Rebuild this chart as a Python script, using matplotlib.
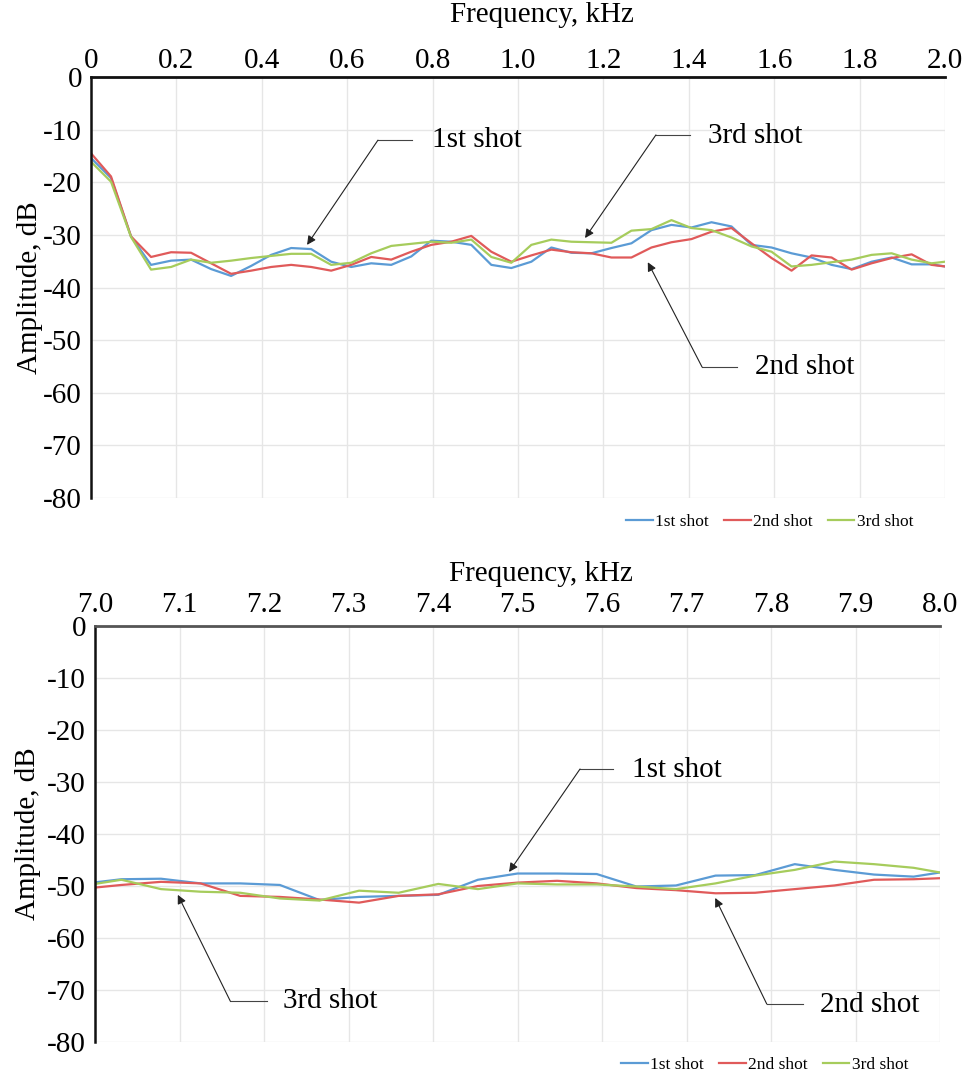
import matplotlib
matplotlib.use("Agg")
import matplotlib.pyplot as plt
import numpy as np

plt.rcParams['font.family'] = ['Liberation Serif', 'DejaVu Serif']
plt.rcParams['axes.unicode_minus'] = False

# ---------------- data ----------------
series_names = ["1st shot", "2nd shot", "3rd shot"]
series_colors = ["#5b9bd5", "#e05a5a", "#a6cc5c"]

bin_width_khz = 0.046875
bins_top = np.arange(0, 44)          # FFT bins 0..43 (0 .. 2.016 kHz)
bins_bot = np.arange(149, 172)       # FFT bins 149..171 (6.98 .. 8.016 kHz)

blue_top = [-15.4, -19.2, -30.3, -35.7, -34.9, -34.7, -36.5, -37.8, -35.9, -33.8,
            -32.5, -32.7, -35.1, -36.1, -35.4, -35.7, -34.1, -31.1, -31.3, -31.9,
            -35.7, -36.3, -35.1, -32.4, -33.4, -33.5, -32.5, -31.6, -29.1, -28.1,
            -28.6, -27.6, -28.4, -31.9, -32.4, -33.5, -34.3, -35.7, -36.5, -35.1,
            -34.3, -35.6, -35.6, -36.2]
red_top = [-14.5, -18.9, -30.3, -34.2, -33.3, -33.4, -35.4, -37.4, -36.8, -36.1,
           -35.7, -36.1, -36.8, -35.7, -34.2, -34.7, -33.2, -31.9, -31.3, -30.2,
           -33.2, -35.1, -33.9, -32.8, -33.3, -33.5, -34.3, -34.3, -32.4, -31.4,
           -30.8, -29.4, -28.7, -31.6, -34.4, -36.8, -33.9, -34.3, -36.6, -35.4,
           -34.4, -33.7, -35.7, -36.15]
green_top = [-16.1, -19.9, -30.4, -36.6, -36.1, -34.7, -35.3, -34.9, -34.4, -34.0,
             -33.6, -33.6, -35.7, -35.3, -33.5, -32.1, -31.7, -31.3, -31.5, -30.9,
             -34.2, -35.3, -31.9, -30.9, -31.3, -31.4, -31.5, -29.2, -28.9, -27.2,
             -28.7, -29.1, -30.5, -32.2, -33.2, -36.0, -35.7, -35.2, -34.7, -33.8,
             -33.5, -34.7, -35.4, -34.95]

blue_bot = [-49.6, -48.7, -48.6, -49.5, -49.5, -49.8, -52.7, -52.1, -51.9, -51.7,
            -48.8, -47.6, -47.6, -47.7, -50.1, -49.9, -48.0, -47.9, -45.8, -46.9,
            -47.8, -48.2, -47.0]
red_bot = [-50.55, -49.8, -49.2, -49.5, -51.9, -52.1, -52.6, -53.2, -51.9, -51.6,
           -50.0, -49.35, -49.0, -49.5, -50.4, -50.8, -51.4, -51.3, -50.6, -49.9,
           -48.8, -48.7, -48.4]
green_bot = [-50.0, -48.8, -50.6, -51.1, -51.3, -52.4, -52.8, -50.9, -51.3, -49.6,
             -50.6, -49.5, -49.7, -49.7, -50.1, -50.6, -49.5, -48.0, -46.9, -45.3,
             -45.8, -46.5, -47.85]

xticks_top = [0, 0.2, 0.4, 0.6, 0.8, 1.0, 1.2, 1.4, 1.6, 1.8, 2.0]
xticklabels_top = ["0", "0.2", "0.4", "0.6", "0.8", "1.0", "1.2", "1.4", "1.6", "1.8", "2.0"]
xticks_bot = [7.0, 7.1, 7.2, 7.3, 7.4, 7.5, 7.6, 7.7, 7.8, 7.9, 8.0]
xticklabels_bot = ["7.0", "7.1", "7.2", "7.3", "7.4", "7.5", "7.6", "7.7", "7.8", "7.9", "8.0"]
yticks = [0, -10, -20, -30, -40, -50, -60, -70, -80]

# ---------------- figure ----------------
W, H = 965, 1075
fig = plt.figure(figsize=(W / 100, H / 100), dpi=100)

def rect(x0, y0, x1, y1):
    return [x0 / W, 1 - y1 / H, (x1 - x0) / W, (y1 - y0) / H]

ax1 = fig.add_axes(rect(91, 77, 945, 498))
ax2 = fig.add_axes(rect(95, 626, 940, 1042))


def setup(ax, xlim, xticks, xlabels, spine_top_color, xpad):
    ax.set_xlim(*xlim)
    ax.set_ylim(-80, 0)
    ax.xaxis.tick_top()
    ax.set_xticks(xticks)
    ax.set_xticklabels(xlabels)
    ax.set_yticks(yticks)
    ax.set_yticklabels([str(v) for v in yticks])
    ax.tick_params(axis='x', length=0, labelsize=21, pad=xpad)
    ax.tick_params(axis='y', length=0, labelsize=21, pad=6.5)
    for s in ['right', 'bottom']:
        ax.spines[s].set_visible(False)
    ax.spines['top'].set_color(spine_top_color)
    ax.spines['top'].set_linewidth(2)
    ax.spines['left'].set_color('#111111')
    ax.spines['left'].set_linewidth(1.8)
    ax.grid(True, color='#e6e6e6', linewidth=1)
    ax.set_axisbelow(True)


setup(ax1, (0, 2.0), xticks_top, xticklabels_top, '#111111', 2.5)
setup(ax2, (7.0, 8.0), xticks_bot, xticklabels_bot, '#555555', 6)

f_top = bins_top * bin_width_khz
f_bot = bins_bot * bin_width_khz
handles = []
for vals, name, col in zip([blue_top, red_top, green_top], series_names, series_colors):
    h, = ax1.plot(f_top, vals, color=col, lw=1.6, label=name)
    handles.append(h)
for vals, name, col in zip([blue_bot, red_bot, green_bot], series_names, series_colors):
    ax2.plot(f_bot, vals, color=col, lw=1.6, label=name)


def callout(ax, text, tip, elbow, hend, textpos):
    ax.plot([elbow[0], hend[0]], [elbow[1], elbow[1]], color='#444444', lw=0.8)
    ax.annotate('', xy=tip, xytext=elbow,
                arrowprops=dict(arrowstyle='-|>', color='#222222', lw=0.8,
                                mutation_scale=13, shrinkA=0, shrinkB=0))
    ax.text(textpos[0], textpos[1], text, fontsize=21, va='center', ha='left')


callout(ax1, "1st shot", (0.506, -31.9), (0.672, -12.0), (0.752, -12.0), (0.799, -12.0))
callout(ax1, "3rd shot", (1.157, -30.6), (1.323, -11.0), (1.403, -11.0), (1.445, -11.2))
callout(ax1, "2nd shot", (1.304, -35.2), (1.431, -55.1), (1.513, -55.1), (1.555, -55.2))

callout(ax2, "1st shot", (7.490, -47.3), (7.574, -27.5), (7.613, -27.5), (7.6355, -27.6))
callout(ax2, "3rd shot", (7.098, -51.7), (7.160, -72.1), (7.2036, -72.1), (7.2225, -72.2))
callout(ax2, "2nd shot", (7.734, -52.3), (7.795, -72.7), (7.838, -72.7), (7.858, -72.8))

fig.text(542 / W, 1 - 15 / H, "Frequency, kHz", ha='center', va='center', fontsize=21)
fig.text(541 / W, 1 - 574 / H, "Frequency, kHz", ha='center', va='center', fontsize=21)
fig.text(30 / W, 1 - 288 / H, "Amplitude, dB", ha='center', va='center', fontsize=21, rotation=90)
fig.text(28 / W, 1 - 834 / H, "Amplitude, dB", ha='center', va='center', fontsize=21, rotation=90)

for cx, cy in [(770, 522), (765, 1065)]:
    fig.legend(handles, series_names, loc='center', bbox_to_anchor=(cx / W, 1 - cy / H),
               ncol=3, frameon=False, fontsize=12.5, handlelength=1.5,
               handletextpad=0.15, columnspacing=0.9, borderaxespad=0, borderpad=0)

fig.savefig("out.png", dpi=100)
